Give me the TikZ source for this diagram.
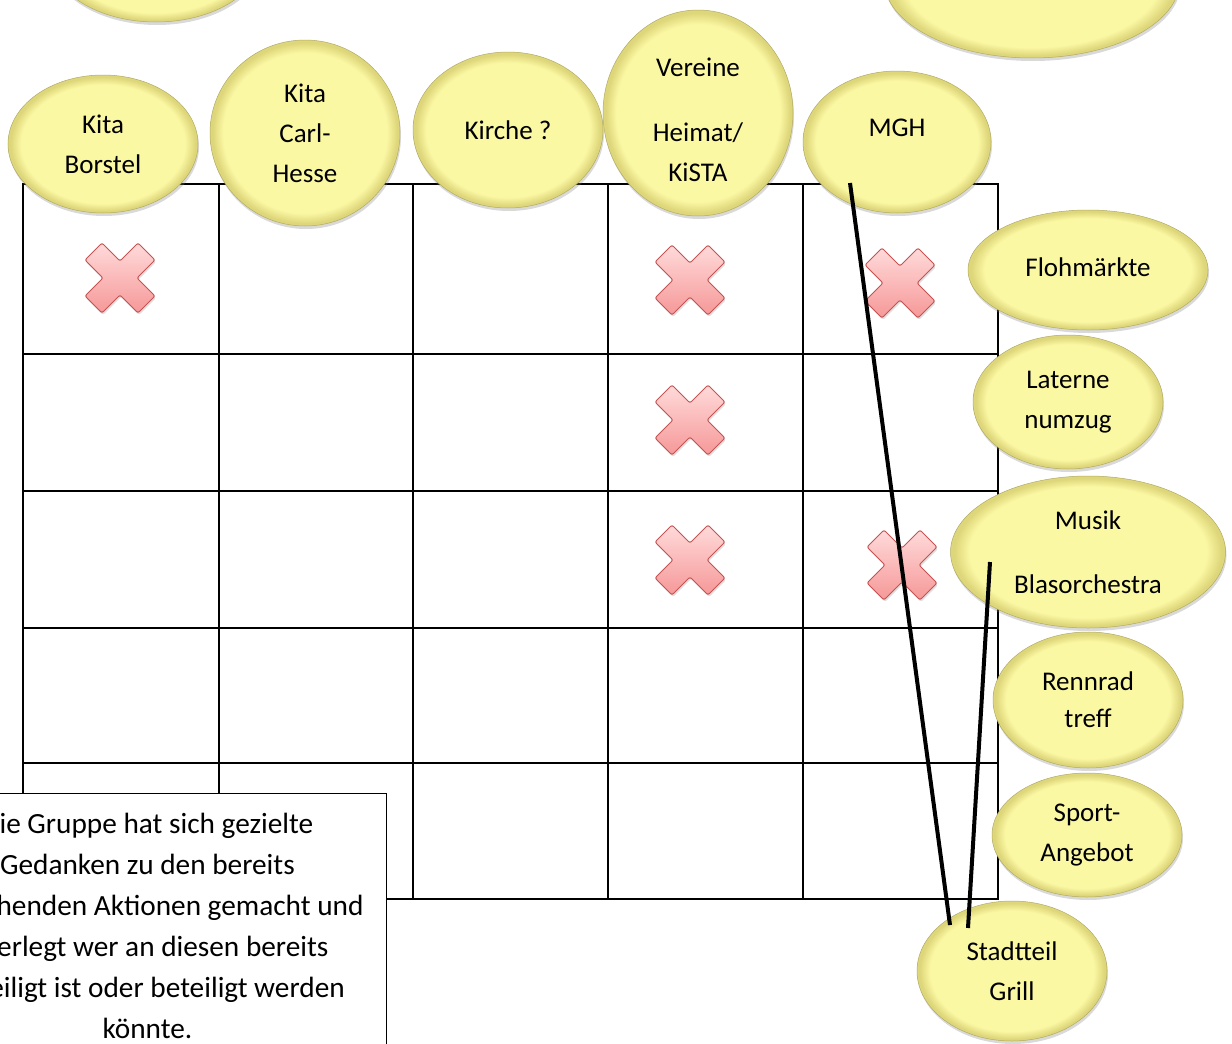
\documentclass[tikz,border=0pt]{standalone}
\usepackage{fontspec}
\setmainfont{Carlito}
\usetikzlibrary{shapes.geometric,shadows}
\definecolor{blasengelb}{RGB}{251,248,164}
\definecolor{blasenrand}{RGB}{222,214,122}
\definecolor{kreuzoben}{RGB}{255,218,218}
\definecolor{kreuzunten}{RGB}{246,152,152}
\definecolor{kreuzrand}{RGB}{196,84,84}
\pgfdeclareradialshading{blasenschattierung}{\pgfpoint{0bp}{0bp}}{color(0bp)=(blasengelb); color(21.5bp)=(blasengelb); color(24.3bp)=(blasenrand); color(25bp)=(blasenrand); color(50bp)=(blasenrand)}

\begin{document}
\begin{tikzpicture}
          [x=1pt,y=-1pt,
           blase/.style={ellipse,shading=blasenschattierung,draw=blasenrand!80!black,line width=0.5pt,
                         drop shadow={opacity=0.3,shadow xshift=1pt,shadow yshift=-3pt},
                         align=center,inner sep=0pt,font=\fontsize{27}{40}\selectfont},
           kreuzstil/.style={draw=kreuzrand,line width=1pt,rounded corners=2pt,top color=kreuzoben,bottom color=kreuzunten,
                         drop shadow={opacity=0.25,shadow xshift=1pt,shadow yshift=-2pt}},
           kreuz/.pic={\path[kreuzstil] (-35,18) -- (-18,35) -- (0,17) -- (18,35) -- (35,18) -- (17,0)
                         -- (35,-18) -- (18,-35) -- (0,-17) -- (-18,-35) -- (-35,-18) -- (-17,0) -- cycle;},
           hinweisbox/.style={draw,fill=white,line width=1.2pt,align=flush center,text width=450pt,
                         inner xsep=14pt,inner ysep=20pt,font=\fontsize{29.3}{41}\selectfont},
           verbinder/.style={line width=4pt}]

          \clip (0,0) rectangle (1232,1044);

          \node[blase,minimum width=212pt,minimum height=134pt] (obenlinks) at (156,-45) {};
          \node[blase,minimum width=296pt,minimum height=156pt] (obenrechts) at (1032,-20) {};

          \draw[line width=1.3pt] (23,184) rectangle (998,899);
          \draw[line width=1.3pt] (219,184) -- (219,899);
          \draw[line width=1.3pt] (413,184) -- (413,899);
          \draw[line width=1.3pt] (608,184) -- (608,899);
          \draw[line width=1.3pt] (803,184) -- (803,899);
          \draw[line width=1.3pt] (23,354) -- (998,354);
          \draw[line width=1.3pt] (23,491) -- (998,491);
          \draw[line width=1.3pt] (23,628) -- (998,628);
          \draw[line width=1.3pt] (23,763) -- (998,763);

          \node[hinweisbox,anchor=north east] (hinweis) at (387,793)
            {Die Gruppe hat sich gezielte\\Gedanken zu den bereits\\bestehenden Aktionen gemacht und\\überlegt wer an diesen bereits\\beteiligt ist oder beteiligt werden\\könnte.};

          \pic at (120,278) {kreuz};
          \pic at (690,280) {kreuz};
          \pic at (900,283) {kreuz};
          \pic at (690,420) {kreuz};
          \pic at (690,560) {kreuz};
          \pic at (902,565) {kreuz};

          \node[blase,minimum width=190pt,minimum height=138pt] (borstel) at (103,144) {Kita\\Borstel};
          \node[blase,minimum width=190pt,minimum height=186pt] (carlhesse) at (305,133) {Kita\\Carl-\\Hesse};
          \node[blase,minimum width=190pt,minimum height=156pt] (kirche) at (508,130) {Kirche ?};
          \node[blase,minimum width=190pt,minimum height=206pt] (vereine) at (698,113) {\rule{0pt}{32pt}Vereine\\[25pt]Heimat/\\KiSTA};
          \node[blase,minimum width=188pt,minimum height=142pt] (mgh) at (897,142) {MGH\\[-12pt]\mbox{}};
          \node[blase,minimum width=240pt,minimum height=120pt] (flohmarkt) at (1088,270) {Flohmärkte\\[-34pt]\mbox{}};
          \node[blase,minimum width=190pt,minimum height=134pt] (laterne) at (1068,402) {Laterne\\numzug};
          \node[blase,minimum width=275pt,minimum height=152pt] (musik) at (1088,552) {Musik\\[24pt]Blasorchestra};
          \node[blase,minimum width=190pt,minimum height=136pt] (rennrad) at (1088,700) {Rennrad\\[-3pt]treff};
          \node[blase,minimum width=190pt,minimum height=124pt] (sport) at (1087,835) {Sport-\\Angebot};
          \node[blase,minimum width=190pt,minimum height=140pt] (grill) at (1012,971) {Stadtteil\\Grill};

          \coordinate (mghfuss) at (850,183);
          \coordinate (musikfuss) at (990,562);
          \coordinate (grilllinks) at (950,925);
          \coordinate (grillrechts) at (968,928);

          \draw[verbinder] (mghfuss) -- (grilllinks);
          \draw[verbinder] (musikfuss) -- (grillrechts);
        \end{tikzpicture}
\end{document}
